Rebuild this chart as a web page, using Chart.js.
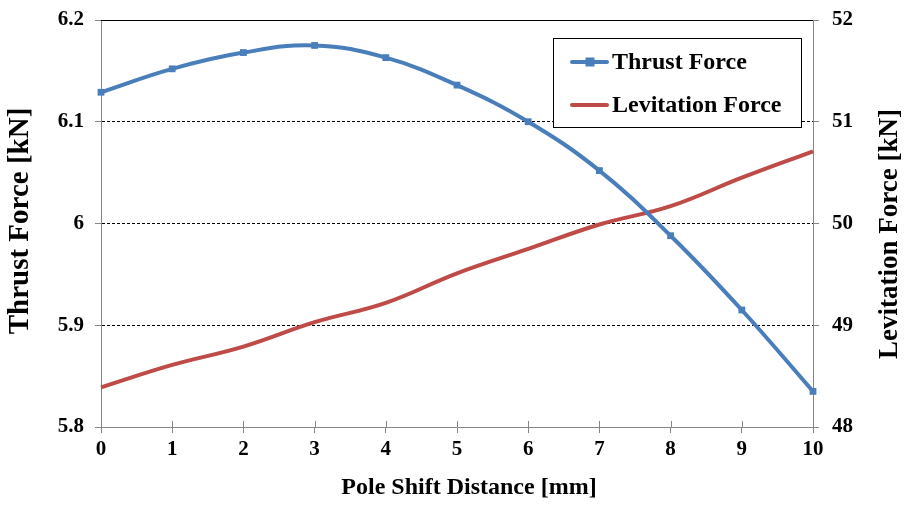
<!DOCTYPE html>
<html><head><meta charset="utf-8">
<script src="https://cdn.jsdelivr.net/npm/chart.js@4"></script>
<style>html,body{margin:0;padding:0;background:#fff}#wrap{width:912px;height:505px;position:relative}</style>
</head><body><div id="wrap"><canvas id="c"></canvas></div>
<script>
const distances = [0, 1, 2, 3, 4, 5, 6, 7, 8, 9, 10];
const thrustForce = [6.129, 6.152, 6.168, 6.175, 6.163, 6.136, 6.100, 6.052, 5.988, 5.915, 5.835];
const levitationForce = [48.39, 48.61, 48.79, 49.03, 49.22, 49.51, 49.75, 49.99, 50.17, 50.45, 50.71];
const seriesNames = ['Thrust Force', 'Levitation Force'];
const xTitle = 'Pole Shift Distance [mm]';
const leftTitle = 'Thrust Force [kN]';
const rightTitle = 'Levitation Force [kN]';

const FONT = '"Liberation Serif", "Times New Roman", serif';
const AXIS_GRAY = '#868686';
const BLUE = '#4A7EBB';
const RED = '#BE4B48';

const legendPlugin = {
  id: 'boxLegend',
  afterDatasetsDraw(chart) {
    const ctx = chart.ctx;
    const ds = chart.data.datasets;
    ctx.save();
    const bx = 553.5, by = 38.5, bw = 248, bh = 89;
    ctx.fillStyle = '#fff';
    ctx.fillRect(bx, by, bw, bh);
    ctx.strokeStyle = '#000';
    ctx.lineWidth = 1;
    ctx.strokeRect(bx, by, bw, bh);
    const rows = [62, 105];
    ds.forEach((d, i) => {
      const y = rows[i];
      ctx.strokeStyle = d.borderColor;
      ctx.lineWidth = 4;
      ctx.lineCap = 'round';
      ctx.beginPath(); ctx.moveTo(572, y); ctx.lineTo(607, y); ctx.stroke();
      if (d.pointRadius > 0) {
        ctx.fillStyle = d.pointBackgroundColor;
        ctx.fillRect(590 - 4.5, y - 4.5, 9, 9);
      }
      ctx.fillStyle = '#000';
      ctx.font = 'bold 24px ' + FONT;
      ctx.textAlign = 'left';
      ctx.textBaseline = 'middle';
      ctx.fillText(d.label, 612, y + 1);
    });
    ctx.restore();
  },
  beforeDatasetsDraw(chart) {
    const ctx = chart.ctx;
    const a = chart.chartArea;
    const xs = chart.scales.x;
    ctx.save();
    ctx.strokeStyle = '#000';
    ctx.lineWidth = 1;
    ctx.beginPath(); ctx.moveTo(a.left, Math.round(a.top) + 0.5); ctx.lineTo(a.right, Math.round(a.top) + 0.5); ctx.stroke();
    ctx.strokeStyle = AXIS_GRAY;
    xs.ticks.forEach(t => {
      const px = Math.round(xs.getPixelForValue(t.value)) + 0.5;
      ctx.beginPath(); ctx.moveTo(px, a.bottom - 6); ctx.lineTo(px, a.bottom); ctx.stroke();
    });
    ctx.restore();
  },
  afterDraw(chart) {
    const ctx = chart.ctx;
    ctx.save();
    ctx.fillStyle = '#000';
    ctx.textAlign = 'center';
    ctx.textBaseline = 'middle';
    ctx.font = 'bold 24px ' + FONT;
    ctx.fillText(xTitle, 469, 488);
    ctx.font = 'bold 29px ' + FONT;
    ctx.save();
    ctx.translate(21, 221);
    ctx.rotate(-Math.PI / 2);
    ctx.fillText(leftTitle, 0, 0);
    ctx.restore();
    ctx.font = 'bold 27px ' + FONT;
    ctx.save();
    ctx.translate(890, 234);
    ctx.rotate(-Math.PI / 2);
    ctx.fillText(rightTitle, 0, 0);
    ctx.restore();
    ctx.restore();
  }
};

new Chart(document.getElementById('c'), {
  type: 'line',
  data: {
    datasets: [
      {
        label: seriesNames[0],
        data: distances.map((d, i) => ({x: d, y: thrustForce[i]})),
        yAxisID: 'y',
        borderColor: BLUE,
        backgroundColor: BLUE,
        pointBackgroundColor: BLUE,
        pointBorderColor: BLUE,
        borderWidth: 4,
        pointStyle: 'rect',
        pointRadius: 4.8,
        pointBorderWidth: 0,
        tension: 0.4,
        clip: false
      },
      {
        label: seriesNames[1],
        data: distances.map((d, i) => ({x: d, y: levitationForce[i]})),
        yAxisID: 'y1',
        borderColor: RED,
        backgroundColor: RED,
        pointBackgroundColor: RED,
        borderWidth: 4,
        pointRadius: 0,
        tension: 0.4,
        clip: false
      }
    ]
  },
  options: {
    responsive: true,
    maintainAspectRatio: false,
    animation: false,
    layout: {padding: {top: 20, left: 0, right: 0, bottom: 0}},
    plugins: {legend: {display: false}, tooltip: {enabled: false}},
    scales: {
      x: {
        type: 'linear',
        min: 0, max: 10,
        ticks: {stepSize: 1, color: '#000', font: {family: FONT, size: 21, weight: 'bold'}, padding: 4},
        grid: {drawOnChartArea: false, tickLength: 6, tickColor: AXIS_GRAY},
        border: {display: true, color: AXIS_GRAY, width: 1},
        afterFit(s) { s.height = 78; }
      },
      y: {
        type: 'linear', position: 'left',
        min: 5.8, max: 6.2,
        ticks: {stepSize: 0.1, color: '#000', font: {family: FONT, size: 21, weight: 'bold'}, padding: 11,
          callback: v => String(Math.round(v * 10) / 10)},
        grid: {
          color: c => (c.index === 0 || c.index === 4) ? 'rgba(0,0,0,0)' : '#000',
          lineWidth: 1, tickLength: 6, tickColor: AXIS_GRAY
        },
        border: {display: true, color: AXIS_GRAY, width: 1, dash: [3, 2]},
        afterFit(s) { s.width = 101; s.paddingTop = 0; s.paddingBottom = 0; }
      },
      y1: {
        type: 'linear', position: 'right',
        min: 48, max: 52,
        ticks: {stepSize: 1, color: '#000', font: {family: FONT, size: 21, weight: 'bold'}, padding: 13},
        grid: {drawOnChartArea: false, tickLength: 6, tickColor: AXIS_GRAY},
        border: {display: true, color: AXIS_GRAY, width: 1},
        afterFit(s) { s.width = 99; s.paddingTop = 0; s.paddingBottom = 0; }
      }
    }
  },
  plugins: [legendPlugin]
});
</script>
</body></html>
